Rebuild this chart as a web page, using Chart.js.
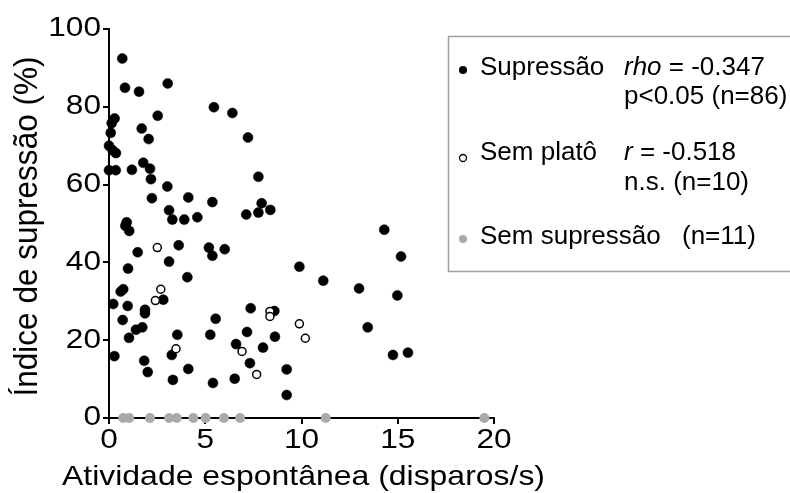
<!DOCTYPE html>
<html>
<head>
<meta charset="utf-8">
<script src="https://cdn.jsdelivr.net/npm/chart.js@4"></script>
<style>
  html, body { margin: 0; padding: 0; background: #fff; }
  #wrap { width: 790px; height: 493px; }
</style>
</head>
<body>
<div id="wrap"><canvas id="scatter" width="790" height="493"></canvas></div>
<script>
// Supressão (filled)
const supX = [0.69, 0.83, 1.56, 3.05, 5.45, 6.41, 7.22, 2.53, 0.29, 0.14, 0.09, 1.70, 2.06, 0.00, 0.19, 0.36, 0.00, 0.35, 1.19, 1.78,
  2.13, 2.18, 7.76, 3.03, 2.23, 4.12, 5.37, 7.93, 8.38, 7.13, 7.76, 3.12, 3.29, 3.91, 4.59, 0.92, 0.85, 1.05, 3.62, 5.19,
  5.37, 6.01, 1.49, 3.12, 0.99, 4.07, 0.74, 0.61, 2.82, 0.22, 0.97, 1.87, 1.87, 7.36, 8.59, 0.71, 5.54, 1.73, 1.40, 1.04,
  3.55, 5.26, 7.17, 8.62, 6.60, 8.00, 3.26, 0.28, 7.32, 1.83, 2.01, 4.12, 3.32, 5.40, 6.53, 9.23, 9.23, 14.3, 15.17, 9.89,
  11.13, 12.99, 14.98, 13.44, 14.75, 15.53];
const supY = [92.4, 84.9, 83.9, 86.0, 79.9, 78.4, 72.1, 77.7, 77.0, 75.8, 73.3, 74.4, 71.7, 70.0, 68.8, 68.1, 63.7, 63.7, 63.8, 65.6,
  64.1, 61.4, 62.0, 59.5, 56.5, 56.7, 55.5, 55.2, 53.5, 52.3, 52.8, 53.4, 51.0, 51.0, 51.6, 50.3, 49.4, 48.1, 44.4, 43.8,
  41.7, 43.4, 42.6, 40.2, 38.4, 36.2, 33.1, 32.5, 30.4, 29.3, 28.8, 27.8, 26.9, 28.2, 27.5, 25.2, 25.5, 23.3, 22.7, 20.6,
  21.4, 21.4, 22.1, 20.9, 19.0, 18.1, 16.2, 15.9, 14.1, 14.7, 11.8, 12.6, 9.8, 9.0, 10.1, 12.5, 5.9, 48.4, 41.5, 38.9,
  35.3, 33.3, 31.5, 23.3, 16.2, 16.8];

// Sem platô (open)
const platoX = [2.51, 2.69, 2.41, 3.48, 8.36, 8.36, 6.91, 7.67, 9.89, 10.2];
const platoY = [43.8, 33.1, 30.2, 17.8, 27.4, 26.1, 17.1, 11.2, 24.2, 20.5];

// Sem supressão (grey, all at 0)
const semX = [0.74, 1.05, 2.13, 3.12, 3.52, 4.38, 5.02, 5.97, 6.81, 11.26, 19.5];
const semY = [0, 0, 0, 0, 0, 0, 0, 0, 0, 0, 0];

const xTicks = [0, 5, 10, 15, 20];
const yTicks = [0, 20, 40, 60, 80, 100];

const xTitle = 'Atividade espontânea (disparos/s)';
const yTitle = 'Índice de supressão (%)';

const toPts = (xs, ys) => xs.map((x, i) => ({ x: x, y: ys[i] }));

const FONT = "'Liberation Sans', Arial, sans-serif";
const SX = 1.17; // axis text in the original is drawn a bit wide

// tick labels + axis titles, placed with the chart's own scales
const axisText = {
  id: 'axisText',
  afterDraw(chart) {
    const c = chart.ctx;
    const xs = chart.scales.x, ys = chart.scales.y;
    c.save();
    c.fillStyle = '#000';
    c.font = '27px ' + FONT;

    c.textAlign = 'center';
    c.textBaseline = 'alphabetic';
    xTicks.forEach(v => {
      c.save();
      c.translate(xs.getPixelForValue(v), 448);
      c.scale(SX, 1);
      c.fillText(String(v), 0, 0);
      c.restore();
    });

    c.textAlign = 'right';
    c.textBaseline = 'middle';
    yTicks.forEach(v => {
      c.save();
      c.translate(101, ys.getPixelForValue(v));
      c.scale(SX, 1);
      c.fillText(String(v), 0, 0);
      c.restore();
    });

    // x title
    c.font = '28px ' + FONT;
    c.textAlign = 'left';
    c.textBaseline = 'alphabetic';
    let w = c.measureText(xTitle).width;
    c.save();
    c.translate(62, 485);
    c.scale((545 - 62) / w, 1);
    c.fillText(xTitle, 0, 0);
    c.restore();

    // y title
    c.font = '29.5px ' + FONT;
    c.textAlign = 'center';
    w = c.measureText(yTitle).width;
    c.save();
    c.translate(37, (ys.top + ys.bottom) / 2 + 3);
    c.rotate(-Math.PI / 2);
    c.scale(340 / w, 1.1);
    c.fillText(yTitle, 0, 0);
    c.restore();

    c.restore();
  }
};

const legendBox = {
  id: 'legendBox',
  afterDraw(chart) {
    const c = chart.ctx;
    c.save();
    c.strokeStyle = '#a0a0a0';
    c.lineWidth = 1.5;
    c.strokeRect(448.5, 36.5, 360, 235);

    c.textBaseline = 'middle';
    const f = '26px ' + FONT;
    const fi = 'italic 26px ' + FONT;

    // markers
    c.beginPath(); c.arc(463, 70, 4, 0, Math.PI * 2); c.fillStyle = '#000'; c.fill();
    c.beginPath(); c.arc(463, 158, 3.5, 0, Math.PI * 2); c.fillStyle = '#fff'; c.fill();
    c.lineWidth = 1.3; c.strokeStyle = '#000'; c.stroke();
    c.beginPath(); c.arc(463, 239, 4, 0, Math.PI * 2); c.fillStyle = '#aaaaaa'; c.fill();

    c.fillStyle = '#000';
    c.font = f;
    c.fillText('Supressão', 480, 68);
    c.fillText('Sem platô', 480, 153);
    c.fillText('Sem supressão', 480, 237);
    c.fillText('(n=11)', 682, 237);
    c.fillText('p<0.05 (n=86)', 624, 97);
    c.fillText('n.s. (n=10)', 624, 183);

    c.font = fi;
    c.fillText('rho', 624, 68);
    let w = c.measureText('rho').width;
    c.font = f;
    c.fillText(' = -0.347', 624 + w, 68);

    c.font = fi;
    c.fillText('r', 624, 153);
    w = c.measureText('r').width;
    c.font = f;
    c.fillText(' = -0.518', 624 + w, 153);
    c.restore();
  }
};

const ctx = document.getElementById('scatter').getContext('2d');
const scatter = new Chart(ctx, {
  type: 'scatter',
  data: {
    datasets: [
      {
        label: 'Sem platô',
        data: toPts(platoX, platoY),
        pointRadius: 4,
        pointBackgroundColor: '#fff',
        pointBorderColor: '#000',
        pointBorderWidth: 1.5,
        clip: false
      },
      {
        label: 'Supressão',
        data: toPts(supX, supY),
        pointRadius: 5,
        pointBackgroundColor: '#000',
        pointBorderColor: '#000',
        pointBorderWidth: 0.5,
        clip: false
      },
      {
        label: 'Sem supressão',
        data: toPts(semX, semY),
        pointRadius: 5,
        pointBackgroundColor: '#aaaaaa',
        pointBorderColor: '#aaaaaa',
        pointBorderWidth: 0,
        clip: false
      }
    ]
  },
  options: {
    responsive: false,
    animation: false,
    layout: { padding: { top: 29, right: 296, left: 0, bottom: 0 } },
    plugins: { legend: { display: false }, tooltip: { enabled: false } },
    scales: {
      x: {
        type: 'linear',
        min: 0, max: 20,
        afterBuildTicks: s => { s.ticks = xTicks.map(v => ({ value: v })); },
        afterFit: s => { s.height = 75; },
        ticks: { display: false },
        grid: { drawOnChartArea: false, tickLength: 6, color: '#000', lineWidth: 2 },
        border: { color: '#000', width: 2 },
        title: { display: false, text: xTitle }
      },
      y: {
        type: 'linear',
        min: 0, max: 100,
        afterBuildTicks: s => { s.ticks = yTicks.map(v => ({ value: v })); },
        afterFit: s => { s.width = 109; },
        ticks: { display: false },
        grid: { drawOnChartArea: false, tickLength: 6, color: '#000', lineWidth: 2 },
        border: { color: '#000', width: 2 },
        title: { display: false, text: yTitle }
      }
    }
  },
  plugins: [axisText, legendBox]
});
</script>
</body>
</html>
